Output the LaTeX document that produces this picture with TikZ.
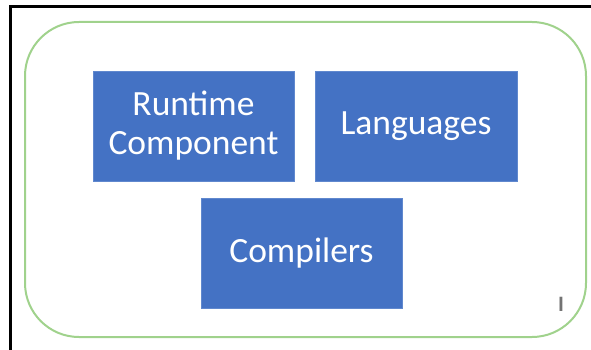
\documentclass[tikz,border=0pt]{standalone}
\usepackage{fontspec}
\setmainfont{Carlito}
\definecolor{boxblue}{RGB}{68,114,196}
\definecolor{boxedge}{RGB}{96,136,206}
\definecolor{framegreen}{RGB}{160,210,140}
\tikzset{
  block/.style={draw=boxedge, line width=0.8pt, fill=boxblue, text=white,
    align=center, font=\fontsize{35.5}{39}\selectfont, inner sep=0pt},
}
\begin{document}
\begin{tikzpicture}[x=1pt, y=-1pt]
  \useasboundingbox (0,0) rectangle (591,350);
  % outer black frame (left and top edges)
  \draw[line width=3pt] (10.5,350) -- (10.5,7) -- (591,7);
  % green rounded container
  \draw[framegreen, line width=2pt, rounded corners=54pt] (25,22) rectangle (586,337);
  % component blocks
  \node[block, minimum width=201pt, minimum height=110pt] (runtime) at (193.5,126) {Runtime\\Component};
  \node[block, minimum width=202pt, minimum height=110pt] (languages) at (416,126) {Languages};
  \node[block, minimum width=201pt, minimum height=110pt] (compilers) at (301.5,253) {Compilers};
  % small text cursor mark
  \node[text=gray!90!black, font=\bfseries\fontsize{22}{22}\selectfont, inner sep=0pt] (cursor) at (561,304.5) {I};
\end{tikzpicture}
\end{document}
